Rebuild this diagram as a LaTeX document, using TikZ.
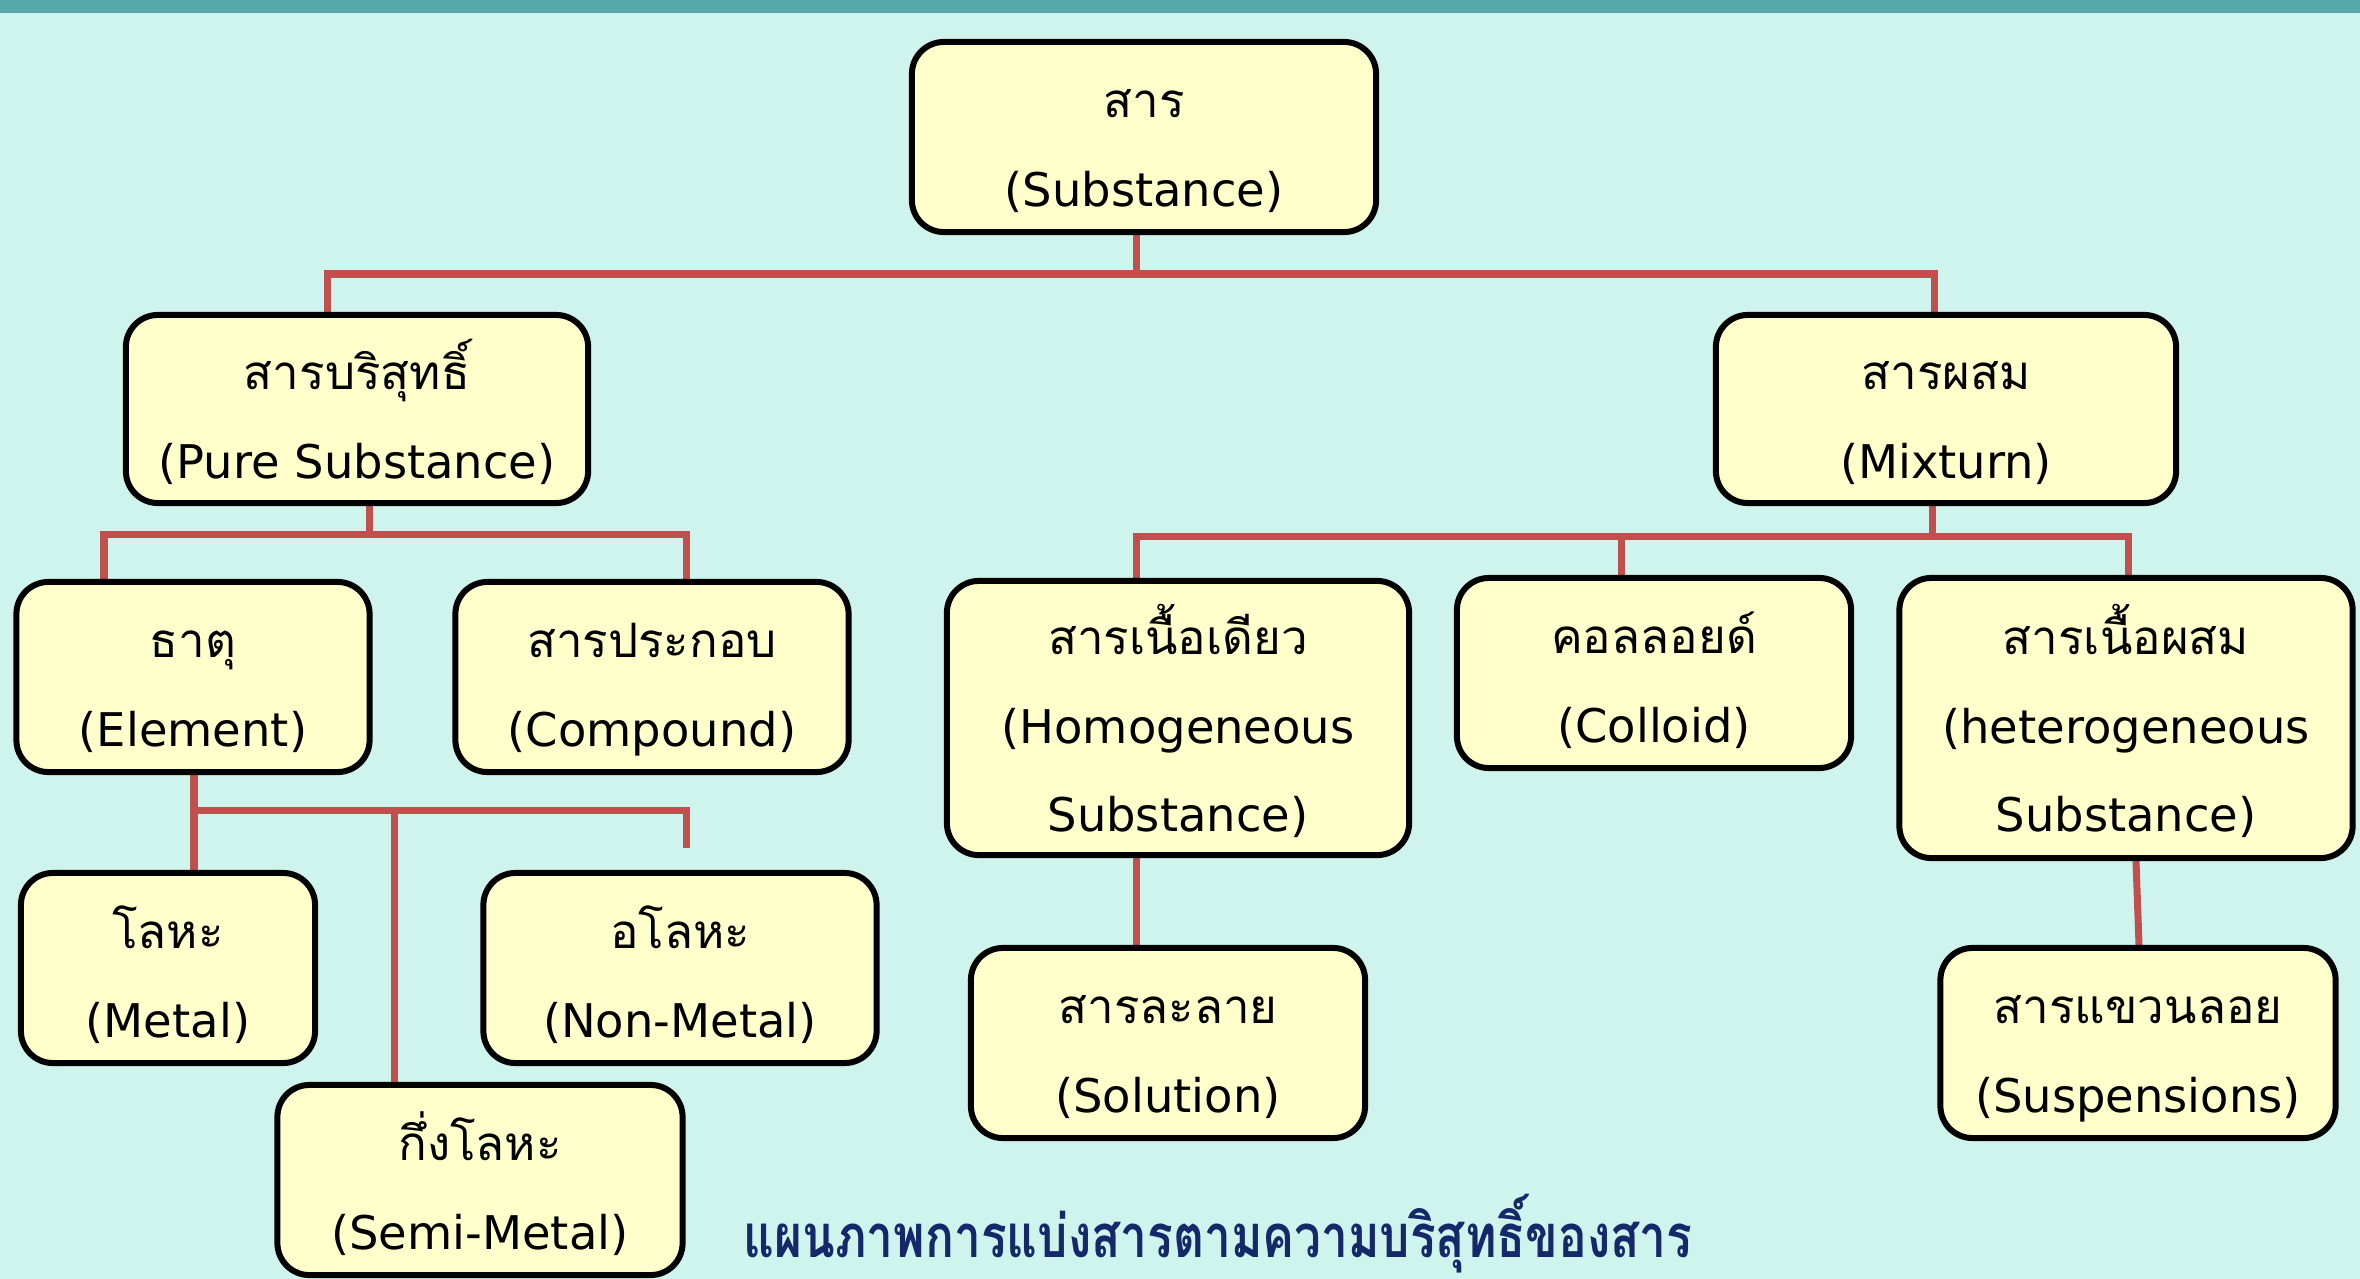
\documentclass[tikz,border=0pt]{standalone}
\usepackage{fontspec}
\setmainfont[Script=Thai]{Loma}
\newfontfamily\latfont{DejaVu Sans}
\newfontfamily\capfont[Script=Thai,FakeStretch=0.8]{Loma}
\definecolor{bgcol}{HTML}{CFF4EE}
\definecolor{barcol}{HTML}{55A7A9}
\definecolor{boxfill}{HTML}{FFFFCC}
\definecolor{linkred}{HTML}{C0504D}
\definecolor{capblue}{HTML}{14286A}
\pgfdeclarelayer{bg}
\pgfdeclarelayer{links}
\pgfsetlayers{bg,links,main}
\newcommand\thl[1]{\raisebox{-0.25cm}[0pt][0pt]{#1}}
\newcommand\enl[1]{\raisebox{-0.25cm}[0pt][0pt]{\latfont\fontsize{13.2}{25.3}\selectfont #1}}
\begin{document}
\begin{tikzpicture}[x=0.01cm,y=-0.01cm,
  box/.style={draw=black, line width=0.06cm, fill=boxfill, rounded corners=0.32cm,
    align=center, inner sep=0pt, font=\fontsize{13.5}{25.3}\selectfont},
  link/.style={draw=linkred, line width=0.07cm}]
\begin{pgfonlayer}{bg}
\fill[bgcol] (0,0) rectangle (2360,1279);
\fill[barcol] (0,0) rectangle (2360,13);
\end{pgfonlayer}
\useasboundingbox (0,0) rectangle (2360,1279);

% nodes
\node[box, minimum width=4.64cm, minimum height=1.90cm] (root) at (1144,137) {\thl{สาร}\\\enl{(Substance)}};
\node[box, minimum width=4.62cm, minimum height=1.88cm] (pure) at (357,409) {\thl{สารบริสุทธิ์}\\\enl{(Pure Substance)}};
\node[box, minimum width=4.60cm, minimum height=1.88cm] (mix) at (1946,409) {\thl{สารผสม}\\\enl{(Mixturn)}};
\node[box, minimum width=3.53cm, minimum height=1.90cm] (elem) at (193,677) {\thl{ธาตุ}\\\enl{(Element)}};
\node[box, minimum width=3.93cm, minimum height=1.90cm] (comp) at (652,677) {\thl{สารประกอบ}\\\enl{(Compound)}};
\node[box, minimum width=2.94cm, minimum height=1.90cm] (metal) at (168,968) {\thl{โลหะ}\\\enl{(Metal)}};
\node[box, minimum width=3.93cm, minimum height=1.90cm] (nonmetal) at (680,968) {\thl{อโลหะ}\\\enl{(Non-Metal)}};
\node[box, minimum width=4.05cm, minimum height=1.90cm] (semi) at (480,1180) {\thl{กึ่งโลหะ}\\\enl{(Semi-Metal)}};
\node[box, minimum width=4.62cm, minimum height=2.74cm] (homo) at (1178,718) {\thl{สารเนื้อเดียว}\\\enl{(Homogeneous}\\\enl{Substance)}};
\node[box, minimum width=3.94cm, minimum height=1.90cm] (colloid) at (1654,673) {\thl{คอลลอยด์}\\\enl{(Colloid)}};
\node[box, minimum width=4.53cm, minimum height=2.80cm] (hetero) at (2126,718) {\thl{สารเนื้อผสม}\\\enl{(heterogeneous}\\\enl{Substance)}};
\node[box, minimum width=3.94cm, minimum height=1.90cm] (solution) at (1168,1043) {\thl{สารละลาย}\\\enl{(Solution)}};
\node[box, minimum width=3.95cm, minimum height=1.90cm] (susp) at (2138,1043) {\thl{สารแขวนลอย}\\\enl{(Suspensions)}};

\node[font=\capfont\bfseries\fontsize{17}{20}\selectfont, text=capblue, inner sep=0pt] (cap) at (1218,1234) {แผนภาพการแบ่งสารตามความบริสุทธิ์ของสาร};

% connectors
\begin{pgfonlayer}{links}
\coordinate (j1) at (1136,274); \coordinate (j1l) at (327,274); \coordinate (j1r) at (1934,274);
\draw[link] (j1 |- root.south) -- (j1);
\draw[link] (j1l |- pure.north) -- (j1l) -- (j1r) -- (j1r |- mix.north);

\coordinate (j2) at (369,534); \coordinate (j2l) at (104,534); \coordinate (j2r) at (686,534);
\draw[link] (j2 |- pure.south) -- (j2);
\draw[link] (j2l |- elem.north) -- (j2l) -- (j2r) -- (j2r |- comp.north);

\coordinate (j3) at (1932,536); \coordinate (j3l) at (1136,536); \coordinate (j3m) at (1621,536); \coordinate (j3r) at (2128,536);
\draw[link] (j3 |- mix.south) -- (j3);
\draw[link] (j3l |- homo.north) -- (j3l) -- (j3r) -- (j3r |- hetero.north);
\draw[link] (j3m) -- (j3m |- colloid.north);

\coordinate (j4) at (194,810); \coordinate (j4m) at (394,810); \coordinate (j4r) at (686,810); \coordinate (j4e) at (686,848);
\draw[link] (j4 |- elem.south) -- (j4 |- metal.north);
\draw[link] (j4) -- (j4r) -- (j4e);
\draw[link] (j4m) -- (j4m |- semi.north);

\coordinate (j5) at (1136,900);
\draw[link] (j5 |- homo.south) -- (j5 |- solution.north);
\coordinate (j6a) at (2136,900); \coordinate (j6b) at (2139,900);
\draw[link] (j6a |- hetero.south) -- (j6b |- susp.north);
\end{pgfonlayer}
\end{tikzpicture}
\end{document}
